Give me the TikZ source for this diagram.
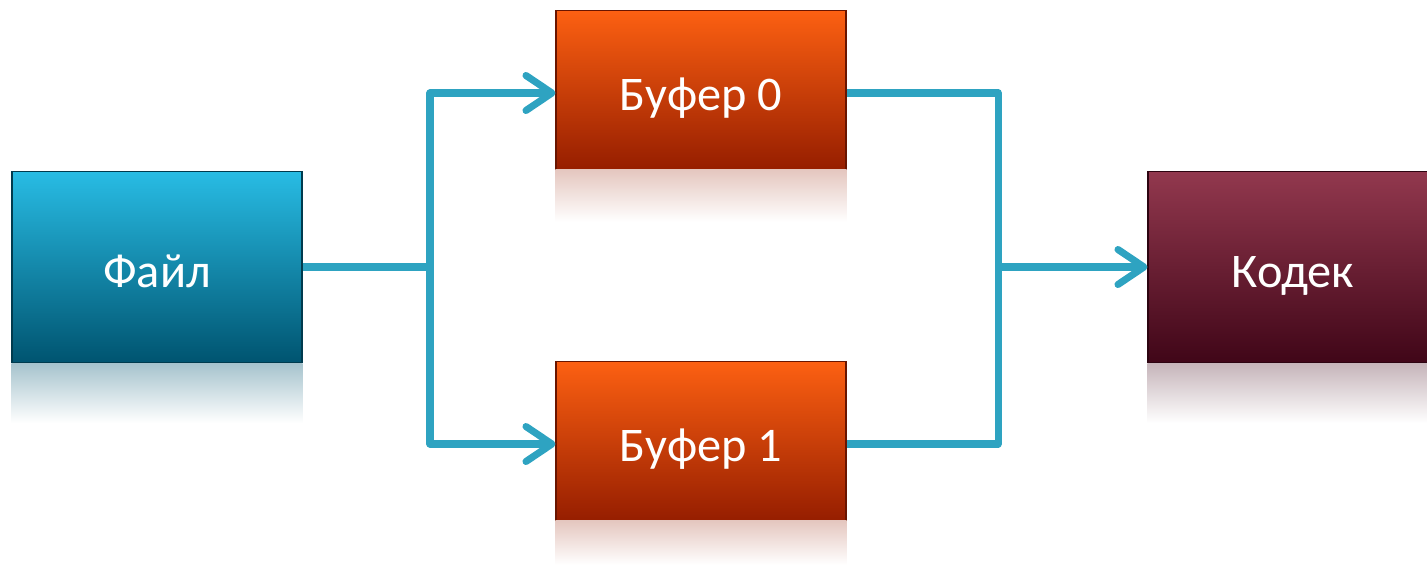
\documentclass[tikz,border=0pt]{standalone}
\usepackage{fontspec}
\setmainfont{Carlito}
\usetikzlibrary{arrows.meta,positioning,calc}
\definecolor{filetop}{RGB}{40,188,228}
\definecolor{filebot}{RGB}{0,84,112}
\definecolor{buftop}{RGB}{252,96,18}
\definecolor{bufbot}{RGB}{150,30,0}
\definecolor{codtop}{RGB}{146,56,78}
\definecolor{codbot}{RGB}{64,6,24}
\definecolor{wirecol}{RGB}{46,163,193}

\begin{document}
\begin{tikzpicture}[x=0.2mm, y=-0.2mm, every node/.style={align=center,font=\fontsize{27.5}{33}\selectfont,text=white,text height=23pt,text depth=0pt}, block/.style={rectangle,minimum width=58mm,line width=0.6pt}, filebox/.style={block,minimum height=38.2mm,top color=filetop,bottom color=filebot,draw=filebot!70!black}, bufbox/.style={block,minimum height=31.7mm,top color=buftop,bottom color=bufbot,draw=bufbot!70!black}, codbox/.style={block,minimum height=38.2mm,top color=codtop,bottom color=codbot,draw=codbot!70!black}, wire/.style={line width=4pt,wirecol,line join=round}, flow/.style={wire,-{Straight Barb[length=5.2mm,width=7mm,round]}}]
  \useasboundingbox (0,0) rectangle (1427,565);
  \node[filebox] (file) at (157,267) {Файл};
  \node[bufbox] (buf0) at (701,90) {Буфер 0};
  \node[bufbox] (buf1) at (701,441) {Буфер 1};
  \node[codbox] (codec) at (1293,267) {Кодек};
  \coordinate (split) at (430,267);
  \coordinate (merge) at (998,267);
  % reflections
  \shade[top color=filebot!35, bottom color=white] (file.south west) rectangle ($(file.south east)+(0,60)$);
  \shade[top color=bufbot!25, bottom color=white] (buf0.south west) rectangle ($(buf0.south east)+(0,52)$);
  \shade[top color=bufbot!25, bottom color=white] (buf1.south west) rectangle ($(buf1.south east)+(0,44)$);
  \shade[top color=codbot!30, bottom color=white] (codec.south west) rectangle ($(codec.south east)+(0,60)$);
  \draw[wire] (file) -- (split);
  \draw[flow] (split) |- ([yshift=-0.6mm]buf0.west);
  \draw[flow] (split) |- ([yshift=-0.6mm]buf1.west);
  \draw[wire] ([yshift=-0.6mm]buf0.east) -| (merge);
  \draw[wire] ([yshift=-0.6mm]buf1.east) -| (merge);
  \draw[flow] (merge) -- (codec);
\end{tikzpicture}
\end{document}
